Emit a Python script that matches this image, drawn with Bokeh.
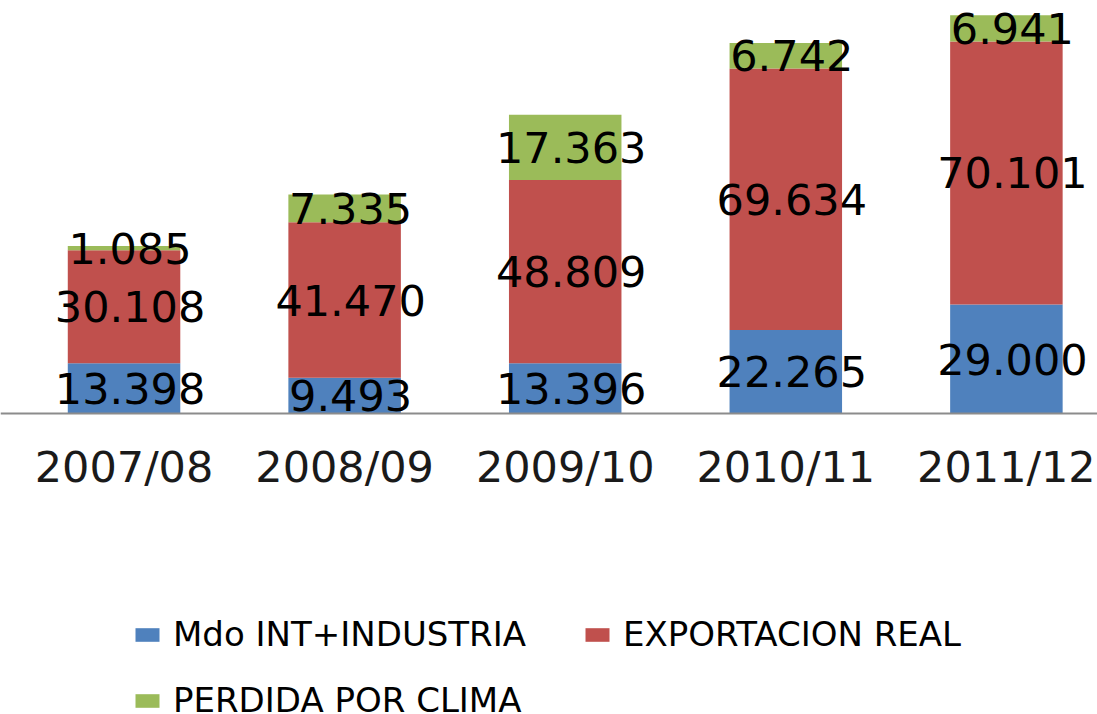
from bokeh.plotting import figure
from bokeh.models import ColumnDataSource, Range1d, FixedTicker, Legend, LegendItem
from bokeh.core.properties import value
from bokeh.embed import file_html
from bokeh.resources import INLINE

categories = ["2007/08", "2008/09", "2009/10", "2010/11", "2011/12"]
mercado_interno = [13.398, 9.493, 13.396, 22.265, 29.000]
exportacion = [30.108, 41.470, 48.809, 69.634, 70.101]
perdida = [1.085, 7.335, 17.363, 6.742, 6.941]
series_names = ["Mdo INT+INDUSTRIA", "EXPORTACION REAL", "PERDIDA POR CLIMA"]
colors = ["#4F81BD", "#C0504D", "#9BBB59"]

FONT = "DejaVu Sans"

p = figure(width=1097, height=714, output_backend="svg", toolbar_location=None,
           x_range=Range1d(-0.560, 4.413), y_range=Range1d(-80.16, 109.99),
           y_axis_location=None, min_border_left=0, min_border_right=0,
           min_border_top=0, min_border_bottom=0)
p.outline_line_color = None
p.xgrid.visible = False
p.ygrid.visible = False
p.background_fill_color = "white"
p.border_fill_color = "white"

xs = list(range(len(categories)))
series = [mercado_interno, exportacion, perdida]
bottom = [0.0] * len(categories)
renderers = []
for vals, col in zip(series, colors):
    top = [b + v for b, v in zip(bottom, vals)]
    src = ColumnDataSource(dict(x=xs, bottom=bottom, top=top,
                                ymid=[b + v / 2 for b, v in zip(bottom, vals)],
                                label=["%.3f" % v for v in vals]))
    r = p.vbar(x="x", bottom="bottom", top="top", width=0.51, source=src,
               fill_color=col, line_color=None)
    renderers.append(r)
    p.text(x="x", y="ymid", text="label", source=src, text_align="center",
           text_baseline="middle", text_font=value(FONT), text_font_size="43px",
           text_color="black", x_offset=6)
    bottom = top

ax = p.xaxis[0]
ax.fixed_location = 0
ax.ticker = FixedTicker(ticks=xs)
ax.major_label_overrides = {i: c for i, c in enumerate(categories)}
ax.major_label_text_font = FONT
ax.major_label_text_font_size = "43px"
ax.major_label_text_color = "#1a1a1a"
ax.major_label_standoff = 22
ax.major_tick_line_color = None
ax.minor_tick_line_color = None
ax.axis_line_color = "#8c8c8c"
ax.axis_line_width = 2

legend = Legend(items=[LegendItem(label=n, renderers=[r]) for n, r in zip(series_names, renderers)],
                location=(132, -6), orientation="horizontal", ncols=2,
                glyph_width=30, glyph_height=17, label_height=34, label_width=383,
                label_standoff=11, spacing=26, padding=0, margin=0,
                label_text_font=FONT, label_text_font_size="34px",
                label_text_baseline="alphabetic", label_text_color="black",
                border_line_color=None, background_fill_alpha=0)
p.add_layout(legend, "center")

open("out.html", "w").write(file_html(p, INLINE))
